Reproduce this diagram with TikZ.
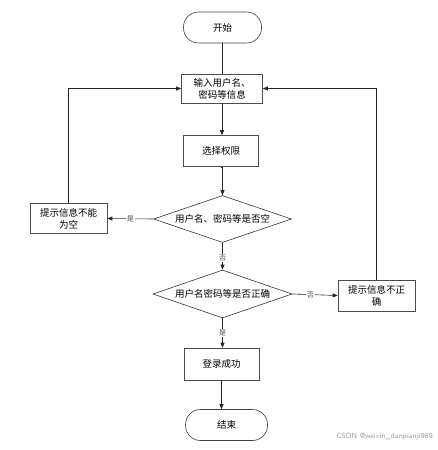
\documentclass[tikz,border=0pt]{standalone}
\usepackage{fontspec}
\newfontfamily\cjk{Noto Sans CJK SC}
\usetikzlibrary{shapes.geometric,arrows.meta}
\begin{document}
\begin{tikzpicture}[x=1pt,y=-1pt,
  font=\cjk\fontsize{9.5}{12}\selectfont,
  every node/.style={inner sep=1pt},
  terminal/.style={draw=black!75,line width=0.6pt,rounded corners=15pt,minimum width=78pt,minimum height=31pt},
  procbox/.style={draw=black!70,line width=0.6pt,minimum width=77pt,minimum height=30pt,align=center},
  decision/.style={draw=black!80,line width=0.6pt,diamond,aspect=2.9,inner sep=0pt,minimum width=138pt,minimum height=47pt},
  conn/.style={draw=black!85,line width=0.6pt},
  arr/.style={conn,-{Triangle[length=5pt,width=4pt]}},
  lbl/.style={fill=white,inner sep=1pt,font=\cjk\fontsize{7}{8}\selectfont,text=black!70}]
\useasboundingbox (0,0) rectangle (438,450);
\node[terminal] (start) at (222.5,27.5) {开始};
\node[procbox,minimum width=81pt,minimum height=29pt] (input) at (222,88.5) {输入用户名、\\密码等信息};
\node[procbox,minimum width=75pt,minimum height=31pt] (role) at (221,151) {选择权限};
\node[decision] (d1) at (222.5,219) {用户名、密码等是否空};
\node[procbox] (empty) at (68.5,218.5) {提示信息不能\\为空};
\node[decision,minimum width=139pt,minimum height=48pt] (d2) at (222.5,294) {用户名密码等是否正确};
\node[procbox,minimum height=31pt] (wrong) at (376.5,295.5) {提示信息不正\\确};
\node[procbox,minimum width=75pt,minimum height=32pt] (ok) at (221.5,364) {登录成功};
\node[terminal,minimum width=82pt] (end) at (226.5,425) {结束};
\coordinate (lc) at (68.5,88.5);
\coordinate (rc) at (376.5,88.5);
\node[font=\sffamily\fontsize{7.5}{9}\selectfont,text=black!40,anchor=east,inner sep=0pt] (wm) at (433,437) {CSDN @weixin\_danpianji989};

\draw[conn] (start.south) -- (start.south |- input.north);
\draw[arr] (input.south) -- (input.south |- role.north);
\draw[arr] (role.south) -- (role.south -| d1.north) -- (d1.north);
\draw[arr] (d1.west) -- node[lbl]{是} (empty.east);
\draw[arr] (d1.south) -- node[lbl,pos=0.55]{否} (d2.north);
\draw[arr] (d2.east) -- node[lbl,pos=0.4]{否} (wrong.west);
\draw[arr] (d2.south) -- node[lbl,pos=0.5]{是} (d2.south |- ok.north);
\draw[arr] (ok.south) -- (ok.south |- end.north);
\draw[arr] (empty.north) -- (lc) -- (input.west);
\draw[arr] (wrong.north) -- (rc) -- (input.east);
\end{tikzpicture}
\end{document}
